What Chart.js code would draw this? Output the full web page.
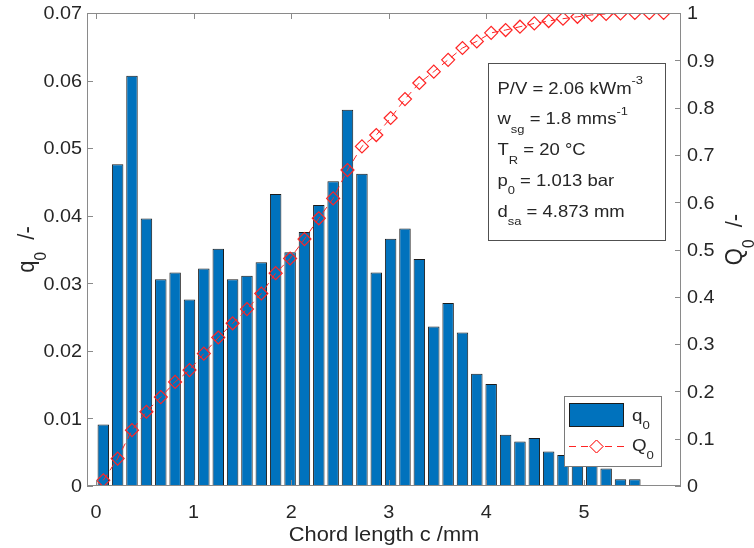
<!DOCTYPE html>
<html>
<head>
<meta charset="utf-8">
<script src="https://cdn.jsdelivr.net/npm/chart.js@4.4.0/dist/chart.umd.min.js"></script>
<style>
  html, body { margin: 0; padding: 0; background: #fff; }
</style>
</head>
<body>
<canvas id="chord_chart" width="754" height="548"></canvas>
<script>
// bin centres (mm)
var chordLength = [0.075, 0.222, 0.369, 0.517, 0.664, 0.811, 0.958, 1.105, 1.253, 1.400,
  1.547, 1.694, 1.841, 1.989, 2.136, 2.283, 2.430, 2.577, 2.725, 2.872,
  3.019, 3.166, 3.313, 3.461, 3.608, 3.755, 3.902, 4.049, 4.197, 4.344,
  4.491, 4.638, 4.785, 4.933, 5.080, 5.227, 5.374, 5.521, 5.669, 5.816];

// number density q0 per bin
var q0 = [0.0091, 0.0476, 0.0607, 0.0396, 0.0306, 0.0316, 0.0276, 0.0322, 0.0351, 0.0306,
  0.0311, 0.0331, 0.0432, 0.0346, 0.0376, 0.0416, 0.0451, 0.0557, 0.0462, 0.0316,
  0.0366, 0.0381, 0.0336, 0.0236, 0.0271, 0.0227, 0.0166, 0.0151, 0.0076, 0.0066,
  0.0071, 0.0051, 0.0046, 0.0042, 0.0035, 0.0026, 0.0010, 0.0010];

// cumulative Q0
var Q0 = [0.012, 0.058, 0.118, 0.157, 0.188, 0.220, 0.245, 0.280, 0.314, 0.344,
  0.374, 0.407, 0.450, 0.481, 0.522, 0.566, 0.608, 0.668, 0.718, 0.742,
  0.778, 0.818, 0.852, 0.876, 0.901, 0.926, 0.940, 0.958, 0.964, 0.971,
  0.978, 0.983, 0.988, 0.992, 0.996, 0.998, 0.999, 1.000, 1.000, 1.000];

var xTicks = [0, 1, 2, 3, 4, 5];
var xTickLabels = ['0', '1', '2', '3', '4', '5'];
var qTicks = [0, 0.01, 0.02, 0.03, 0.04, 0.05, 0.06, 0.07];
var qTickLabels = ['0', '0.01', '0.02', '0.03', '0.04', '0.05', '0.06', '0.07'];
var QTicks = [0, 0.1, 0.2, 0.3, 0.4, 0.5, 0.6, 0.7, 0.8, 0.9, 1];
var QTickLabels = ['0', '0.1', '0.2', '0.3', '0.4', '0.5', '0.6', '0.7', '0.8', '0.9', '1'];

// text pieces: [text, '' | 'sub' | 'sup']
var infoLines = [
  [['P/V = 2.06 kWm', ''], ['-3', 'sup']],
  [['w', ''], ['sg', 'sub'], [' = 1.8 mms', ''], ['-1', 'sup']],
  [['T', ''], ['R', 'sub'], [' = 20 \u00B0C', '']],
  [['p', ''], ['0', 'sub'], [' = 1.013 bar', '']],
  [['d', ''], ['sa', 'sub'], [' = 4.873 mm', '']]
];
var xTitle = [['Chord length c /mm', '']];
var yLeftTitle = [['q', ''], ['0', 'sub'], ['  /-', '']];
var yRightTitle = [['Q', ''], ['0', 'sub'], ['  /-', '']];
var legendBar = [['q', ''], ['0', 'sub']];
var legendLine = [['Q', ''], ['0', 'sub']];

var FONT = '"Liberation Sans", Arial, Helvetica, sans-serif';
var SX = 1.12;          // the figure is a bit wider than tall
var TXT = '#262626';
var BLUE = '#0072BD';
var RED = '#ff2424';

function richWidth(ctx, segs, size) {
  var w = 0;
  segs.forEach(function (s) {
    ctx.font = (s[1] ? size * 0.7 : size) + 'px ' + FONT;
    w += ctx.measureText(s[0]).width;
  });
  return w;
}

function drawRich(ctx, segs, x, y, size, align, rotate) {
  ctx.save();
  ctx.translate(x, y);
  ctx.scale(SX, 1);
  if (rotate) ctx.rotate(-Math.PI / 2);
  var total = richWidth(ctx, segs, size);
  var cx = align === 'right' ? -total : (align === 'center' ? -total / 2 : 0);
  ctx.fillStyle = TXT;
  ctx.textBaseline = 'alphabetic';
  ctx.textAlign = 'left';
  segs.forEach(function (s) {
    var sz = s[1] ? size * 0.7 : size;
    var dy = s[1] === 'sub' ? size * 0.5 : (s[1] === 'sup' ? -size * 0.55 : 0);
    ctx.font = sz + 'px ' + FONT;
    ctx.fillText(s[0], cx, dy);
    cx += ctx.measureText(s[0]).width;
  });
  ctx.restore();
}

var matlabLook = {
  id: 'matlabLook',
  afterDraw: function (chart) {
    var ctx = chart.ctx;
    var a = chart.chartArea;
    var sx = chart.scales.x, yl = chart.scales.yL, yr = chart.scales.yR;
    var tickSize = 17.7;

    ctx.save();
    // axes box + inward ticks
    ctx.strokeStyle = '#8a8a8a';
    ctx.lineWidth = 1;
    ctx.strokeRect(a.left + 0.5, a.top + 0.5, a.right - a.left - 1, a.bottom - a.top - 1);
    ctx.beginPath();
    xTicks.forEach(function (v) {
      var px = Math.round(sx.getPixelForValue(v)) + 0.5;
      ctx.moveTo(px, a.bottom); ctx.lineTo(px, a.bottom - 6);
      ctx.moveTo(px, a.top); ctx.lineTo(px, a.top + 6);
    });
    qTicks.forEach(function (v) {
      var py = Math.round(yl.getPixelForValue(v)) + 0.5;
      ctx.moveTo(a.left, py); ctx.lineTo(a.left + 6, py);
    });
    QTicks.forEach(function (v) {
      var py = Math.round(yr.getPixelForValue(v)) + 0.5;
      ctx.moveTo(a.right, py); ctx.lineTo(a.right - 6, py);
    });
    ctx.stroke();

    // tick labels
    xTicks.forEach(function (v, i) {
      drawRich(ctx, [[xTickLabels[i], '']], sx.getPixelForValue(v), 517.5, tickSize, 'center');
    });
    qTicks.forEach(function (v, i) {
      drawRich(ctx, [[qTickLabels[i], '']], a.left - 5, yl.getPixelForValue(v) + 6.3, tickSize, 'right');
    });
    QTicks.forEach(function (v, i) {
      drawRich(ctx, [[QTickLabels[i], '']], a.right + 6, yr.getPixelForValue(v) + 6.3, tickSize, 'left');
    });

    // axis titles
    drawRich(ctx, xTitle, (a.left + a.right) / 2, 541, 19.5, 'center');
    drawRich(ctx, yLeftTitle, 34, (a.top + a.bottom) / 2, 22, 'center', true);
    drawRich(ctx, yRightTitle, 742, (a.top + a.bottom) / 2 - 10, 22, 'center', true);

    // parameter box
    ctx.fillStyle = '#fff';
    ctx.fillRect(488, 63, 178, 177);
    ctx.strokeStyle = '#505050';
    ctx.strokeRect(488.5, 63.5, 177, 177);
    infoLines.forEach(function (line, i) {
      drawRich(ctx, line, 497.5, 93.5 + i * 30.9, 16.5, 'left');
    });

    // legend
    ctx.fillStyle = '#fff';
    ctx.fillRect(564, 396, 98, 71);
    ctx.strokeStyle = '#7a7a7a';
    ctx.strokeRect(564.5, 396.5, 97, 70);
    ctx.fillStyle = BLUE;
    ctx.fillRect(569, 403, 55, 24);
    ctx.strokeStyle = '#1c1c1c';
    ctx.strokeRect(569.5, 403.5, 54, 23);
    ctx.strokeStyle = RED;
    ctx.setLineDash([7, 5]);
    ctx.beginPath();
    ctx.moveTo(569, 446.5); ctx.lineTo(624, 446.5);
    ctx.stroke();
    ctx.setLineDash([]);
    ctx.fillStyle = '#fff';
    Chart.helpers.drawPoint(ctx, { pointStyle: 'rectRot', radius: 6.5, borderWidth: 1 }, 596.5, 446.5);
    ctx.fill();
    ctx.stroke();
    drawRich(ctx, legendBar, 632, 421, 16.8, 'left');
    drawRich(ctx, legendLine, 632, 451, 16.8, 'left');
    ctx.restore();
  }
};

var chord_chart = new Chart(document.getElementById('chord_chart').getContext('2d'), {
  data: {
    datasets: [{
      type: 'line',
      label: 'Q0',
      yAxisID: 'yR',
      data: chordLength.map(function (c, i) { return { x: c, y: Q0[i] }; }),
      borderColor: RED,
      borderWidth: 1,
      borderDash: [7, 5],
      pointStyle: 'rectRot',
      pointRadius: 6.5,
      pointBorderColor: RED,
      pointBackgroundColor: 'rgba(0,0,0,0)',
      pointBorderWidth: 1.2,
      tension: 0,
      order: 0
    }, {
      type: 'bar',
      label: 'q0',
      yAxisID: 'yL',
      data: q0.map(function (v, i) { return { x: chordLength[i], y: v }; }),
      backgroundColor: BLUE,
      borderColor: '#1c1c1c',
      borderWidth: 1,
      borderSkipped: false,
      barPercentage: 0.8,
      categoryPercentage: 1,
      order: 1
    }]
  },
  options: {
    responsive: false,
    animation: false,
    devicePixelRatio: 1,
    layout: { padding: { top: 13, left: 0, right: 0, bottom: 0 } },
    plugins: { legend: { display: false }, tooltip: { enabled: false } },
    scales: {
      x: {
        type: 'linear', min: -0.092, max: 5.994, offset: false,
        grid: { display: false, offset: false }, border: { display: false }, ticks: { display: false },
        afterFit: function (s) { s.height = 62; }
      },
      yL: {
        type: 'linear', position: 'left', min: 0, max: 0.07,
        grid: { display: false }, border: { display: false }, ticks: { display: false },
        afterFit: function (s) { s.width = 87; }
      },
      yR: {
        type: 'linear', position: 'right', min: 0, max: 1,
        grid: { display: false }, border: { display: false }, ticks: { display: false },
        afterFit: function (s) { s.width = 73; }
      }
    }
  },
  plugins: [matlabLook]
});
</script>
</body>
</html>
